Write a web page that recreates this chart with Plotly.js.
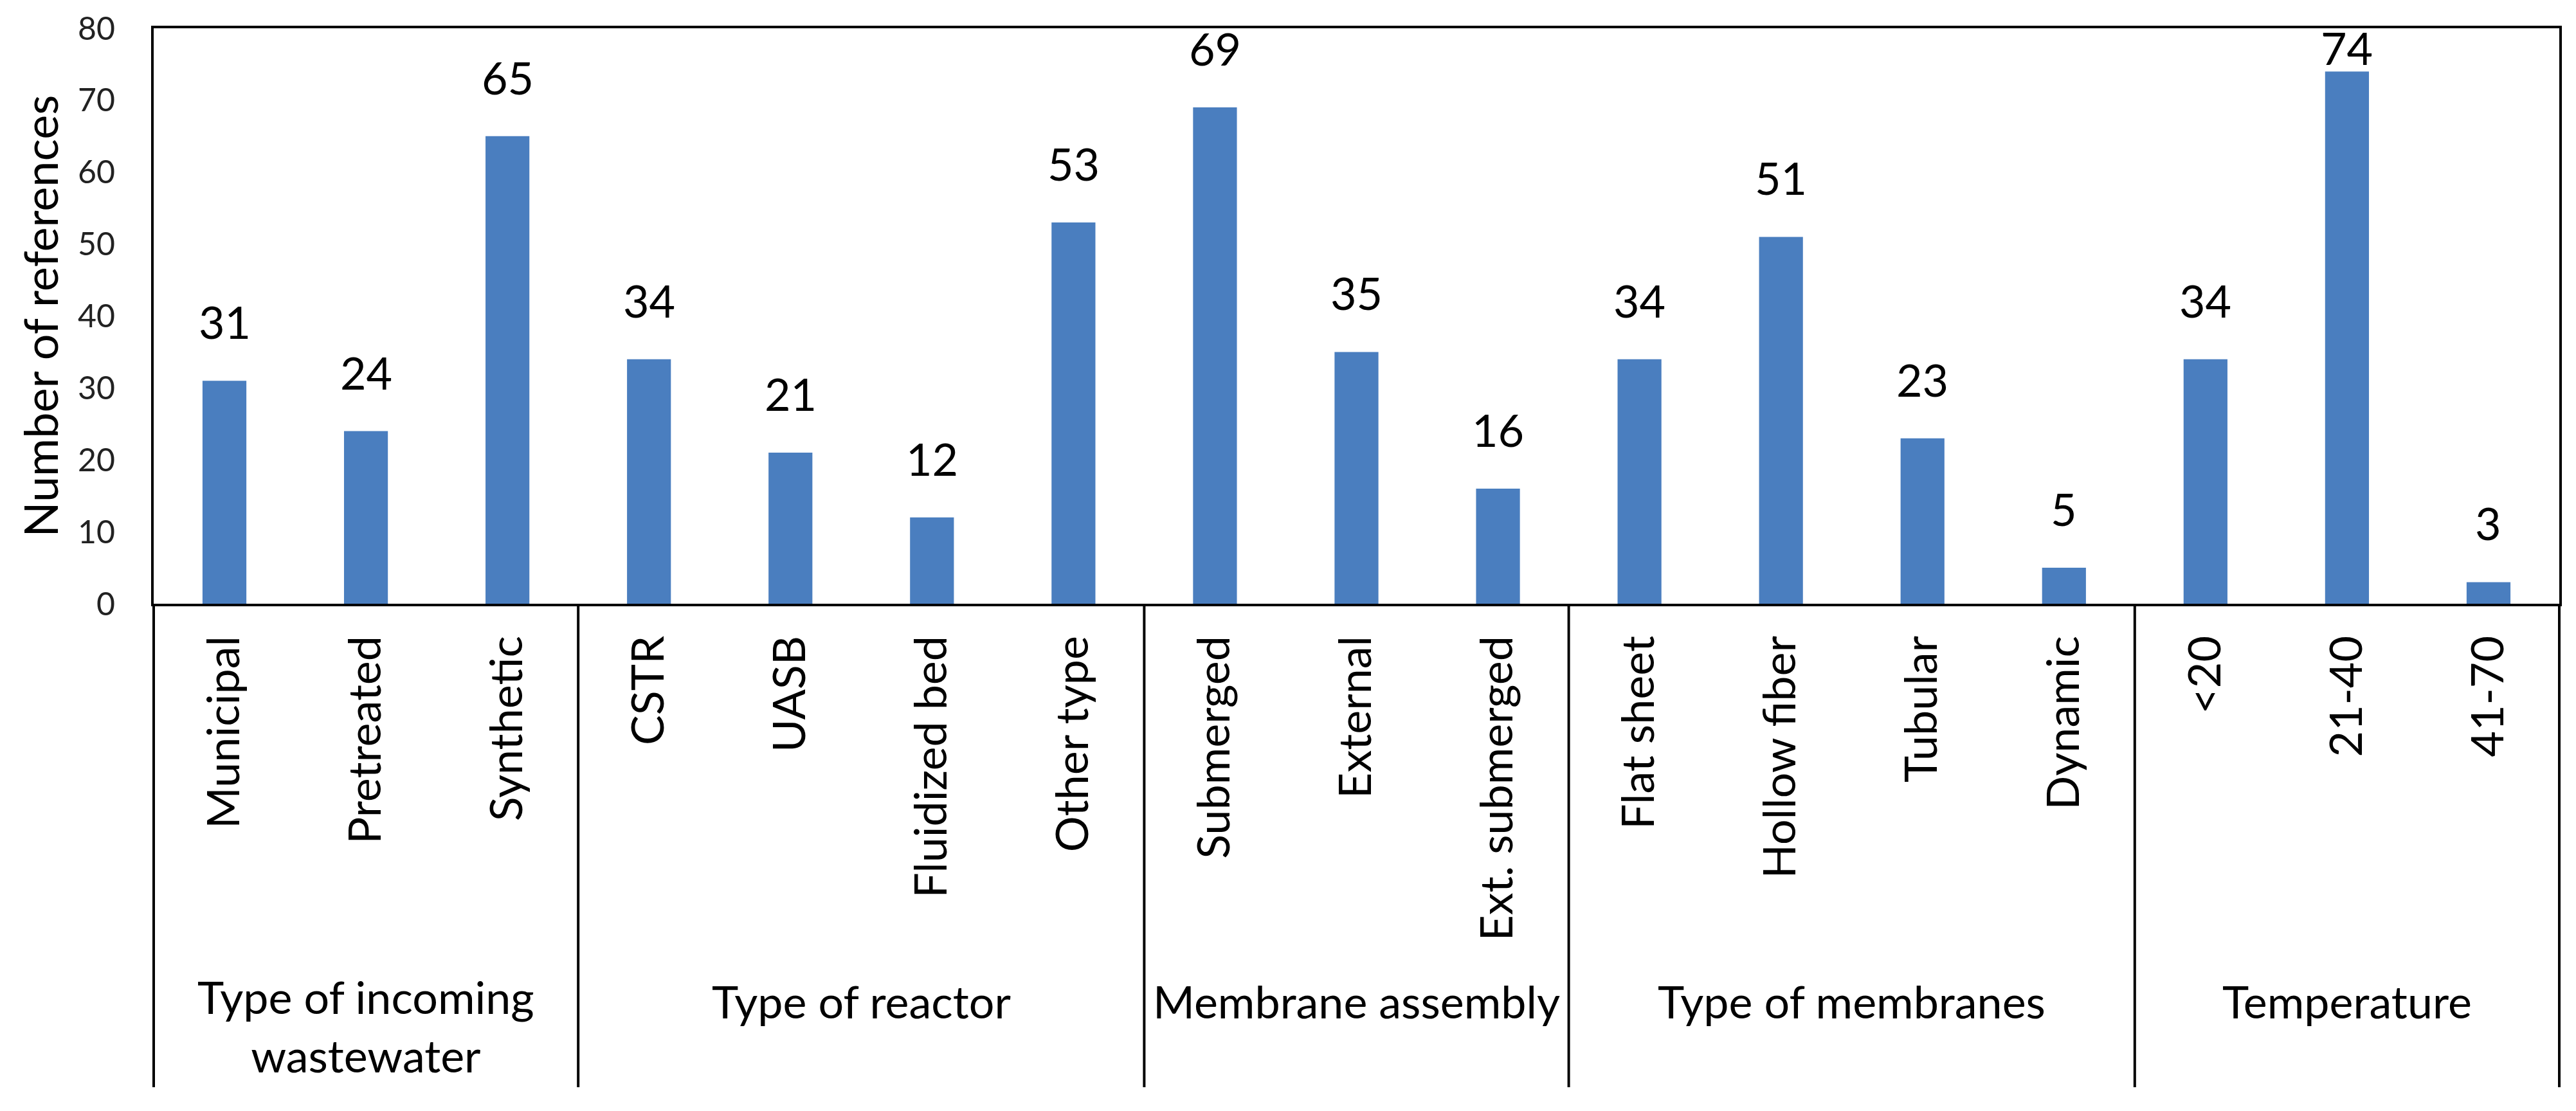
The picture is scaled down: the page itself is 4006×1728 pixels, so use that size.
<!DOCTYPE html>
<html>
<head>
<meta charset="utf-8">
<script src="https://cdn.plot.ly/plotly-3.0.1.min.js"></script>
<style>html,body{margin:0;padding:0;background:#fff;}#chart{width:4006px;height:1728px;}</style>
</head>
<body>
<div id="chart"></div>
<script>
const categories = ["Municipal","Pretreated","Synthetic","CSTR","UASB","Fluidized bed","Other type","Submerged","External","Ext. submerged","Flat sheet","Hollow fiber","Tubular","Dynamic","<20","21-40","41-70"];
const values = [31,24,65,34,21,12,53,69,35,16,34,51,23,5,34,74,3];
const groupNames = ["Type of incoming<br>wastewater","Type of reactor","Membrane assembly","Type of membranes","Temperature"];
const groupSizes = [3,4,3,4,3];
const yTicks = [0,10,20,30,40,50,60,70,80];

const FONT = "Lato, 'Open Sans', sans-serif";
const BIG = 70;
const W = 4006, H = 1728;
const M = {l:239, r:26, t:44, b:789};
const Y_MAX = 80;
const plotH = H - M.t - M.b;
const bottomY = -752 / plotH;

const shapes = [];
const annotations = [];
let start = 0;
groupSizes.forEach((n, gi) => {
  const end = start + n;
  if (gi < groupSizes.length - 1) {
    shapes.push({type:'line', xref:'x', yref:'paper', x0:end-0.5, x1:end-0.5, y0:0, y1:bottomY,
      line:{color:'#000', width:4}});
  }
  const twoLine = groupNames[gi].indexOf('<br>') >= 0;
  annotations.push({xref:'x', yref:'paper', x:(start+end-1)/2, y: twoLine ? -0.733 : -0.69,
    text: groupNames[gi], showarrow:false, xanchor:'center', yanchor:'middle',
    font:{family:FONT, size:BIG, color:'#000'}});
  start = end;
});
shapes.push({type:'line', xref:'paper', yref:'paper', x0:0, x1:0, y0:0, y1:bottomY, line:{color:'#000', width:4}});
shapes.push({type:'line', xref:'paper', yref:'paper', x0:1, x1:1, y0:0, y1:bottomY, line:{color:'#000', width:4}});

// value labels above bars, kept inside the chart area near the top
const LABEL_GAP = 48;
values.forEach((v, i) => {
  const roomPx = (Y_MAX - v) / Y_MAX * plotH;   // space between bar top and plot top
  const shift = Math.min(LABEL_GAP, roomPx - 74);
  annotations.push({xref:'x', yref:'y', x:categories[i], y:v, text:String(v), showarrow:false,
    xanchor:'center', yanchor:'bottom', yshift:shift,
    font:{family:FONT, size:BIG, color:'#000'}});
});

const trace = {
  type:'bar', x:categories, y:values,
  marker:{color:'#4A7EBF'},
  hoverinfo:'none'
};

const layout = {
  width:W, height:H,
  margin:{l:M.l, r:M.r, t:M.t, b:M.b, pad:0},
  paper_bgcolor:'#fff', plot_bgcolor:'#fff',
  showlegend:false, bargap:0.69,
  font:{family:FONT, color:'#000'},
  xaxis:{type:'category', range:[-0.5,16.5], showline:true, linecolor:'#000', linewidth:4, mirror:true,
    showgrid:false, zeroline:false, ticks:'', tickangle:-90, ticklabelstandoff:18,
    tickfont:{family:FONT, size:BIG, color:'#000'}, fixedrange:true},
  yaxis:{range:[0,Y_MAX], tickvals:yTicks, showline:true, linecolor:'#000', linewidth:4, mirror:true,
    showgrid:false, zeroline:false, ticks:'', ticklabelstandoff:46,
    tickfont:{family:FONT, size:50, color:'#222'},
    title:{text:'Number of references', font:{family:FONT, size:72, color:'#000'}, standoff:8}, fixedrange:true},
  shapes:shapes, annotations:annotations
};

Plotly.newPlot('chart', [trace], layout, {displayModeBar:false, staticPlot:true});
</script>
</body>
</html>
